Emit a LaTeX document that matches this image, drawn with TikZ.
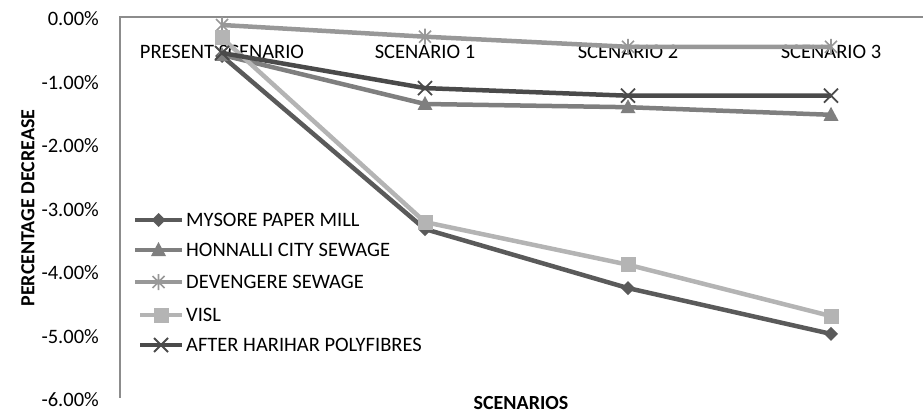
\documentclass[tikz,border=0pt]{standalone}
\usepackage{fontspec}
\setmainfont{Carlito}
\usetikzlibrary{shapes.geometric,calc}
\definecolor{cMys}{HTML}{5A5A5A}
\definecolor{cHon}{HTML}{7F7F7F}
\definecolor{cDev}{HTML}{989898}
\definecolor{cVis}{HTML}{B4B4B4}
\definecolor{cHar}{HTML}{4A4A4A}
\definecolor{axisgray}{HTML}{8C8C8C}
\begin{document}
\begin{tikzpicture}[x=1pt,y=-1pt,
  series/.style={line width=4.5pt, line join=round},
  axisline/.style={draw=axisgray, line width=2.5pt},
  ticklbl/.style={anchor=east, font=\fontsize{20.5}{20.5}\selectfont, inner sep=0pt},
  catlbl/.style={font=\fontsize{20.5}{20.5}\selectfont, inner sep=0pt},
  leglbl/.style={anchor=west, font=\fontsize{20.5}{20.5}\selectfont, inner sep=0pt},
  axtitle/.style={font=\bfseries\fontsize{20}{20}\selectfont, inner sep=0pt},
  pics/mdia/.style={code={\fill[#1] (0,-7) -- (7,0) -- (0,7) -- (-7,0) -- cycle;}},
  pics/mtri/.style={code={\fill[#1] (0,-8) -- (7.5,6) -- (-7.5,6) -- cycle;}},
  pics/msq/.style={code={\fill[#1] (-7.5,-7.5) rectangle (7.5,7.5);}},
  pics/mstar/.style={code={\draw[#1,line width=1.6pt] (-6,-6)--(6,6) (-6,6)--(6,-6) (0,-8)--(0,8);}},
  pics/mx/.style={code={\draw[#1,line width=1.8pt] (-7,-7)--(7,7) (-7,7)--(7,-7);}}
]
\useasboundingbox (0,0) rectangle (923,414);

% axes
\coordinate (o) at (120,17);
\coordinate (xe) at (923,17);
\coordinate (yb) at (120,398);
\draw[axisline] (xe) -- (o) -- (yb);

% tick labels
\foreach \v/\t [count=\i from 0] in {0/0.00\%,1/-1.00\%,2/-2.00\%,3/-3.00\%,4/-4.00\%,5/-5.00\%,6/-6.00\%}
  \node[ticklbl] (tk\i) at (99,{19+63.5*\v}) {\t};

% category labels
\node[catlbl] (c0) at (222,52) {PRESENT SCENARIO};
\node[catlbl] (c1) at (425,52) {SCENARIO 1};
\node[catlbl] (c2) at (628,52) {SCENARIO 2};
\node[catlbl] (c3) at (831,52) {SCENARIO 3};

% axis titles
\node[axtitle, rotate=90] (yt) at (28,208) {PERCENTAGE DECREASE};
\node[axtitle] (xt) at (521,403) {SCENARIOS};

% data coordinates
\coordinate (m0) at (222,56);    \coordinate (m1) at (425,229.1); \coordinate (m2) at (628,288.1); \coordinate (m3) at (831,333.9);
\coordinate (h0) at (222,55);    \coordinate (h1) at (425,104);   \coordinate (h2) at (628,107.2); \coordinate (h3) at (831,114.8);
\coordinate (d0) at (222,25);    \coordinate (d1) at (425,36.7);  \coordinate (d2) at (628,46.8);  \coordinate (d3) at (831,46.8);
\coordinate (v0) at (222,38);    \coordinate (v1) at (425,222.1); \coordinate (v2) at (628,264.7); \coordinate (v3) at (831,316.1);
\coordinate (a0) at (222,53);    \coordinate (a1) at (425,88.1);  \coordinate (a2) at (628,95.7);  \coordinate (a3) at (831,95.7);

% series
\draw[series, cMys] (m0) -- (m1) -- (m2) -- (m3);
\foreach \p in {m0,m1,m2,m3} \pic at (\p) {mdia=cMys};
\draw[series, cHon] (h0) -- (h1) -- (h2) -- (h3);
\foreach \p in {h0,h1,h2,h3} \pic at (\p) {mtri=cHon};
\draw[series, cDev] (d0) -- (d1) -- (d2) -- (d3);
\foreach \p in {d0,d1,d2,d3} \pic at (\p) {mstar=cDev};
\draw[series, cVis] (v0) -- (v1) -- (v2) -- (v3);
\foreach \p in {v0,v1,v2,v3} \pic at (\p) {msq=cVis};
\draw[series, cHar] (a0) -- (a1) -- (a2) -- (a3);
\foreach \p in {a0,a1,a2,a3} \pic at (\p) {mx=cHar};

% legend
\foreach \n/\c/\mk/\t/\y/\xs in {
  l1/cMys/mdia/MYSORE PAPER MILL/220/135,
  l2/cHon/mtri/HONNALLI CITY SEWAGE/250/135,
  l3/cDev/mstar/DEVENGERE SEWAGE/282/135,
  l4/cVis/msq/VISL/315/140,
  l5/cHar/mx/AFTER HARIHAR POLYFIBRES/345/140}{
  \coordinate (\n a) at (\xs,\y);
  \coordinate (\n b) at (182,\y);
  \draw[\c, line width=3.5pt] (\n a) -- (\n b);
  \pic at ($(\n a)!0.5!(\n b)$) {\mk=\c};
  \node[leglbl] (\n t) at (186,\y) {\t};
}
\end{tikzpicture}
\end{document}
